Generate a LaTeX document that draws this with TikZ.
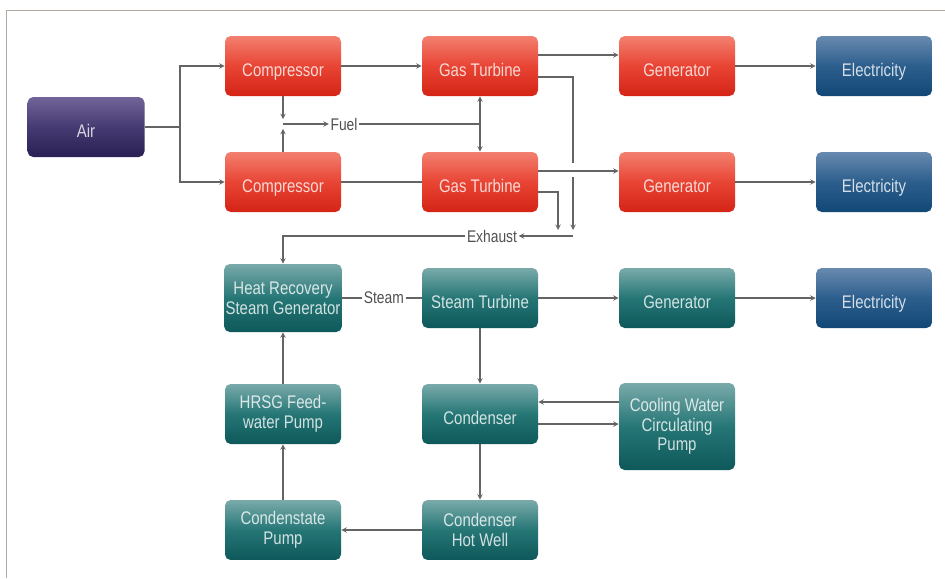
\documentclass[tikz,border=0pt]{standalone}
\usepackage{fontspec}
\newfontfamily\boxfont{Liberation Sans}[FakeStretch=0.82]
\usetikzlibrary{shapes.geometric, arrows, positioning}

\definecolor{redtop}{RGB}{243,128,112}
\definecolor{redmid}{RGB}{232,68,52}
\definecolor{redbot}{RGB}{212,36,22}
\definecolor{tealtop}{RGB}{122,170,170}
\definecolor{tealmid}{RGB}{38,118,118}
\definecolor{tealbot}{RGB}{14,88,90}
\definecolor{bluetop}{RGB}{104,138,176}
\definecolor{bluemid}{RGB}{44,94,140}
\definecolor{bluebot}{RGB}{18,72,118}
\definecolor{purptop}{RGB}{112,100,152}
\definecolor{purpmid}{RGB}{70,58,114}
\definecolor{purpbot}{RGB}{42,32,84}
\definecolor{linegray}{RGB}{100,100,100}
\definecolor{framegray}{RGB}{178,168,158}
\definecolor{labelgray}{RGB}{80,80,80}

\begin{document}
\begin{tikzpicture}[node distance=2.9cm]
\tikzstyle{box} = [rectangle, rounded corners=4pt, minimum width=2.9cm, minimum height=1.5cm, align=center, text=white, text opacity=0.8, inner sep=1pt, text height=17.7pt, text depth=2.6pt, font=\boxfont\fontsize{13}{14}\selectfont]
\tikzstyle{multi} = [text height=, text depth=]
\tikzstyle{redbox} = [box, top color=redtop, bottom color=redbot, middle color=redmid]
\tikzstyle{tealbox} = [box, top color=tealtop, bottom color=tealbot, middle color=tealmid]
\tikzstyle{bluebox} = [box, top color=bluetop, bottom color=bluebot, middle color=bluemid]
\tikzstyle{airbox} = [box, minimum width=2.925cm, top color=purptop, bottom color=purpbot, middle color=purpmid]
\tikzstyle{tag} = [inner sep=1pt, text=labelgray, font=\boxfont\fontsize{12}{13}\selectfont]
\tikzstyle{arrow} = [line width=0.75pt, draw=linegray, ->, >=stealth]
\tikzstyle{line} = [line width=0.75pt, draw=linegray]

\useasboundingbox (-2.15,3.175) rectangle (21.475,-11.275);
\draw[framegray, line width=0.7pt] (-2.0,-11.275) -- (-2.0,2.925) -- (21.475,2.925);

\begin{scope}
\clip (-2.15,3.175) rectangle (21.475,-10.8);

% Gas side
\node[airbox] (air) {Air};
\node[redbox, right of=air, xshift=2.025cm, yshift=1.525cm] (comp1) {Compressor};
\node[redbox, below of=comp1] (comp2) {Compressor};
\node[redbox, right of=comp1, xshift=2.025cm] (gt1) {Gas Turbine};
\node[redbox, below of=gt1] (gt2) {Gas Turbine};
\node[redbox, right of=gt1, xshift=2.025cm] (gen1) {Generator};
\node[redbox, below of=gen1] (gen2) {Generator};
\node[bluebox, right of=gen1, xshift=2.025cm] (elec1) {Electricity};
\node[bluebox, below of=elec1] (elec2) {Electricity};

% Steam side
\node[tealbox, multi, minimum height=1.7cm, below of=comp2] (hrsg) {Heat Recovery\\Steam Generator};
\node[tealbox, right of=hrsg, xshift=2.025cm] (st) {Steam Turbine};
\node[tealbox, right of=st, xshift=2.025cm] (gen3) {Generator};
\node[bluebox, right of=gen3, xshift=2.025cm] (elec3) {Electricity};
\node[tealbox, multi, below of=hrsg] (feed) {HRSG Feed-\\water Pump};
\node[tealbox, below of=st] (cond) {Condenser};
\node[tealbox, multi, minimum height=2.175cm, right of=cond, xshift=2.025cm, yshift=-0.3125cm] (cool) {Cooling Water\\Circulating\\Pump};
\node[tealbox, multi, below of=feed] (cpump) {Condenstate\\Pump};
\node[tealbox, multi, below of=cond] (hotwell) {Condenser\\Hot Well};

% labels on the lines
\node[tag] (fuel) at (6.45,0.075) {Fuel};
\node[tag] (exhaust) at (10.15,-2.725) {Exhaust};
\node[tag, right=0.5cm of hrsg] (steam) {Steam};

% air and fuel
\coordinate (split) at (2.35,0);
\draw [line] (air) -- (split);
\draw [arrow] (split) |- (comp1);
\draw [arrow] (split) |- (comp2);
\draw [arrow, shorten >=0.12cm] (comp1) -- (comp1 |- fuel);
\draw [arrow, shorten >=0.12cm] (comp2) -- (comp1 |- fuel);
\draw [arrow] (comp1 |- fuel) -- (fuel);
\draw [line] (fuel) -- (gt1 |- fuel);
\draw [arrow] (gt1 |- fuel) -- (gt1);
\draw [arrow] (gt1 |- fuel) -- (gt2);

\draw [arrow] (comp1) -- (gt1);
\draw [line] (comp2) -- (gt2);
\draw [arrow] ([yshift=0.275cm]gt1.east) -- ([yshift=0.275cm]gen1.west);
\draw [arrow] ([yshift=0.275cm]gt2.east) -- ([yshift=0.275cm]gen2.west);
\draw [arrow] (gen1) -- (elec1);
\draw [arrow] (gen2) -- (elec2);

% exhaust
\coordinate (exA) at (12.175,-2.725);
\coordinate (exB) at (11.8,-2.725);
\coordinate (gapA) at (12.175,-0.9);
\coordinate (gapB) at (12.175,-1.25);
\draw [line] ([yshift=-0.275cm]gt1.east) -| (gapA);
\draw [arrow, shorten >=0.15cm] (gapB) -- (exA);
\draw [arrow, shorten >=0.15cm] ([yshift=-0.25cm]gt2.east) -| (exB);
\draw [arrow] (exA) -- (exhaust);
\draw [arrow] (exhaust) -| (hrsg);

% steam cycle
\draw [line] (hrsg) -- (steam);
\draw [line] (steam) -- (st);
\draw [arrow] (st) -- (gen3);
\draw [arrow] (gen3) -- (elec3);
\draw [arrow] (st) -- (cond);
\coordinate (cwIn) at ([yshift=0.3cm]cond.east);
\coordinate (cwOut) at ([yshift=-0.25cm]cond.east);
\draw [arrow] (cwIn -| cool.west) -- (cwIn);
\draw [arrow] (cwOut) -- (cwOut -| cool.west);
\draw [arrow] (cond) -- (hotwell);
\draw [arrow] (hotwell) -- (cpump);
\draw [arrow] (cpump) -- (feed);
\draw [arrow] (feed) -- (hrsg);
\end{scope}
%
\end{tikzpicture}
\end{document}
